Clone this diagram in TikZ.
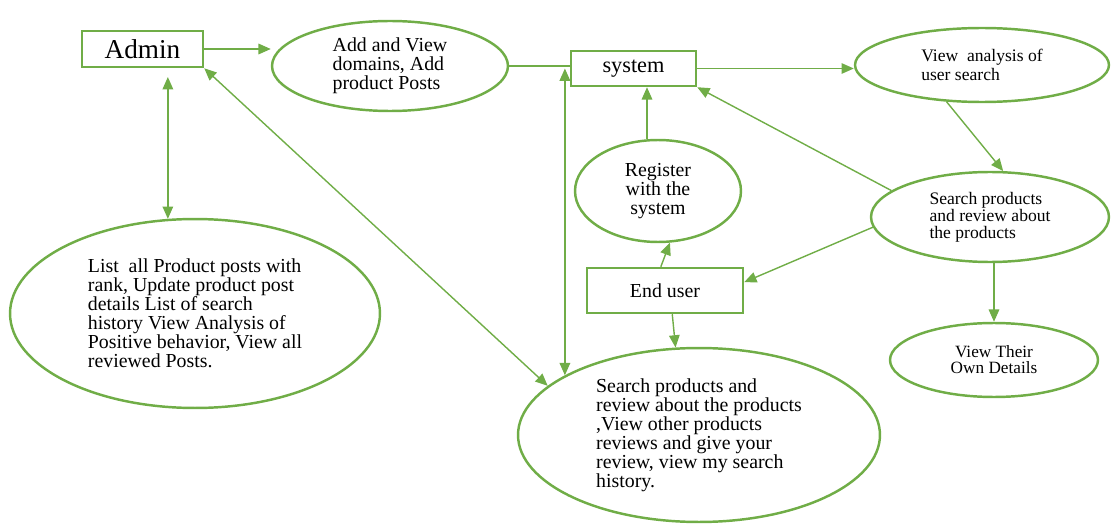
\documentclass[tikz,border=0pt]{standalone}
\usepackage{fontspec}
\setmainfont{Liberation Serif}
\usetikzlibrary{arrows.meta,shapes.geometric}
\definecolor{usegreen}{RGB}{112,173,71}

\begin{document}
\begin{tikzpicture}[x=0.02cm,y=-0.02cm,>={Triangle[length=7pt,width=6pt]},
	actor/.style={draw=usegreen,line width=1.4pt,inner sep=0pt,font=\fontsize{11.3}{11}\selectfont},
	usecase/.style={ellipse,draw=usegreen,line width=1.4pt,inner sep=0pt,align=left,font=\fontsize{11.3}{10.8}\selectfont},
	smallcase/.style={usecase,font=\fontsize{10}{10}\selectfont},
	link/.style={draw=usegreen,line width=0.8pt,->}]
	
	\useasboundingbox (0,0) rectangle (1113,527);
	
	% actors
	\node[actor,minimum width=2.42cm,minimum height=0.72cm,font=\fontsize{15.5}{16}\selectfont] (admin) at (142.5,49) {Admin};
	\node[actor,minimum width=2.5cm,minimum height=0.7cm,font=\fontsize{12.7}{13}\selectfont] (system) at (633.5,68.5) {system};
	\node[actor,minimum width=3.12cm,minimum height=0.9cm] (enduser) at (665,290.5) {End user};
	
	% use cases
	\node[usecase,minimum width=4.72cm,minimum height=1.8cm] (add) at (390,66) {Add and View\\domains, Add\\product Posts};
	\node[smallcase,minimum width=5.08cm,minimum height=1.48cm,font=\fontsize{10}{10.8}\selectfont] (viewan) at (982,65) {View\ \ analysis of\\user search};
	\node[usecase,align=center,minimum width=3.32cm,minimum height=2.04cm] (register) at (658,191) {Register\\with the\\system};
	\node[smallcase,minimum width=4.76cm,minimum height=1.8cm,font=\fontsize{10}{9.6}\selectfont] (search) at (990,217) {Search products\\and review about\\the products};
	\node[smallcase,align=center,minimum width=4.16cm,minimum height=1.48cm,font=\fontsize{9.8}{9.2}\selectfont] (viewown) at (994,360) {View Their\\Own Details};
	\node[usecase,minimum width=7.4cm,minimum height=3.78cm] (adminlist) at (195,313.5) {List\ \ all Product posts with\\rank, Update product post\\details List of search\\history View Analysis of\\Positive behavior, View all\\reviewed Posts.};
	\node[usecase,minimum width=7.24cm,minimum height=3.48cm] (usercase) at (699,435) {Search products and\\review about the products\\,View other products\\reviews and give your\\review, view my search\\history.};
	
	% connectors
	\draw[link] (admin.east) -- (add.west |- admin.east);
	\draw[link,-] (add.east) -- (add.east -| system.west);
	\draw[link] (system.east) -- (system.east -| viewan.west);
	\draw[link] (viewan.226) -- (search.74);
	\draw[link] (search.165) -- (system.south east);
	\draw[link] (search.185) -- (enduser.6);
	\draw[link] (enduser.100) -- (register.-77);
	\draw[link] (register.102) -- (register.102 |- system.south);
	\draw[link] (search.south -| viewown.north) -- (viewown.north);
	\draw[link] (enduser.-73) -- (usercase.105);
	\draw[link,<->] (usercase.156 |- system.west) -- (usercase.156);
	\draw[link,<->] (admin.south east) -- (usercase.162);
	\draw[link,<->,shorten <=5pt] (admin.south -| adminlist.106) -- (adminlist.106);
\end{tikzpicture}
\end{document}
